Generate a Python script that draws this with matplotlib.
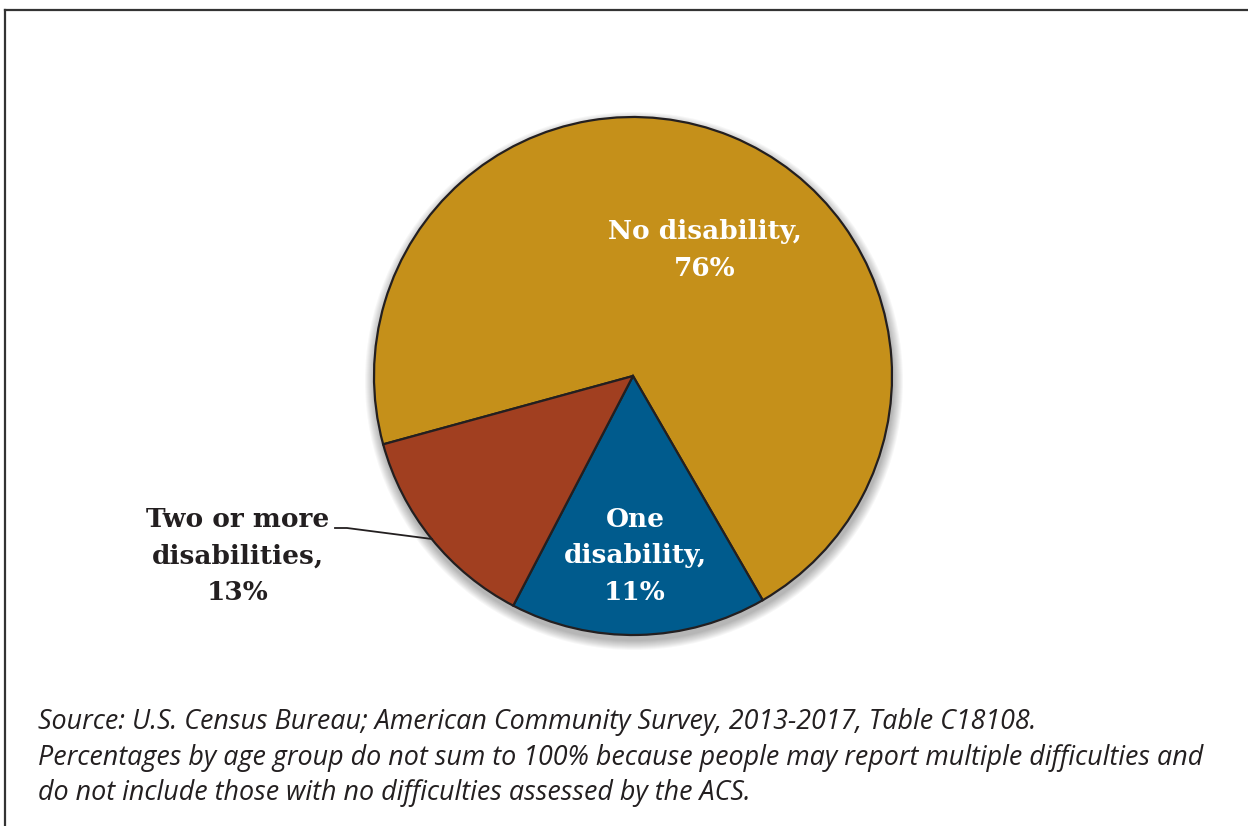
import matplotlib
matplotlib.use("Agg")
import matplotlib.pyplot as plt
from matplotlib.patches import Circle

categories = ["No disability", "One disability", "Two or more disabilities"]
slice_shares = [70.9, 16.0, 13.1]
label_pcts = [76, 11, 13]
slice_colors = ["#C5901A", "#005B8D", "#A13F20"]

source_lines = [
    "Source: U.S. Census Bureau; American Community Survey, 2013-2017, Table C18108.",
    "Percentages by age group do not sum to 100% because people may report multiple difficulties and",
    "do not include those with no difficulties assessed by the ACS.",
]

W, H = 1248, 826
fig = plt.figure(figsize=(W / 100, H / 100), dpi=100)
ax = fig.add_axes([0, 0, 1, 1])

cx, cy, r = 633, H - 376, 259

# soft drop shadow under the pie
for k in range(10):
    ax.add_patch(Circle((cx + 1, cy - 5), r + 10 - k, color="black", alpha=0.03, lw=0, zorder=1))

wedges, _ = ax.pie(
    slice_shares,
    colors=slice_colors,
    startangle=195.3,
    counterclock=False,
    center=(cx, cy),
    radius=r,
    frame=True,
    wedgeprops=dict(edgecolor="#231F20", linewidth=1.6, zorder=2),
)
ax.set_xlim(0, W)
ax.set_ylim(0, H)
ax.axis("off")

serif = dict(family="DejaVu Serif", weight="bold", fontsize=19, ha="center", va="center",
             linespacing=1.58, zorder=5)
ax.text(705, H - 250, f"No disability,\n{label_pcts[0]}%", color="white", **serif)
ax.text(635, H - 556, f"One\ndisability,\n{label_pcts[1]}%", color="white", **serif)
ax.text(238, H - 556, f"Two or more\ndisabilities,\n{label_pcts[2]}%", color="#231F20", **serif)

# leader line for the small slice
ax.plot([335, 347, 432], [H - 528, H - 528, H - 539], color="#231F20", lw=1.3, zorder=4)

# footnote
for i, line in enumerate(source_lines):
    ax.text(38, H - (722 + i * 35.5), line, family="Open Sans", style="italic", fontsize=19.4,
            color="#231F20", ha="left", va="center")

# frame lines (top and left)
ax.plot([5, W], [H - 10, H - 10], color="#333333", lw=1.6, clip_on=False)
ax.plot([5, 5], [H - 10, 0], color="#333333", lw=1.6, clip_on=False)

fig.savefig("out.png", dpi=100)
